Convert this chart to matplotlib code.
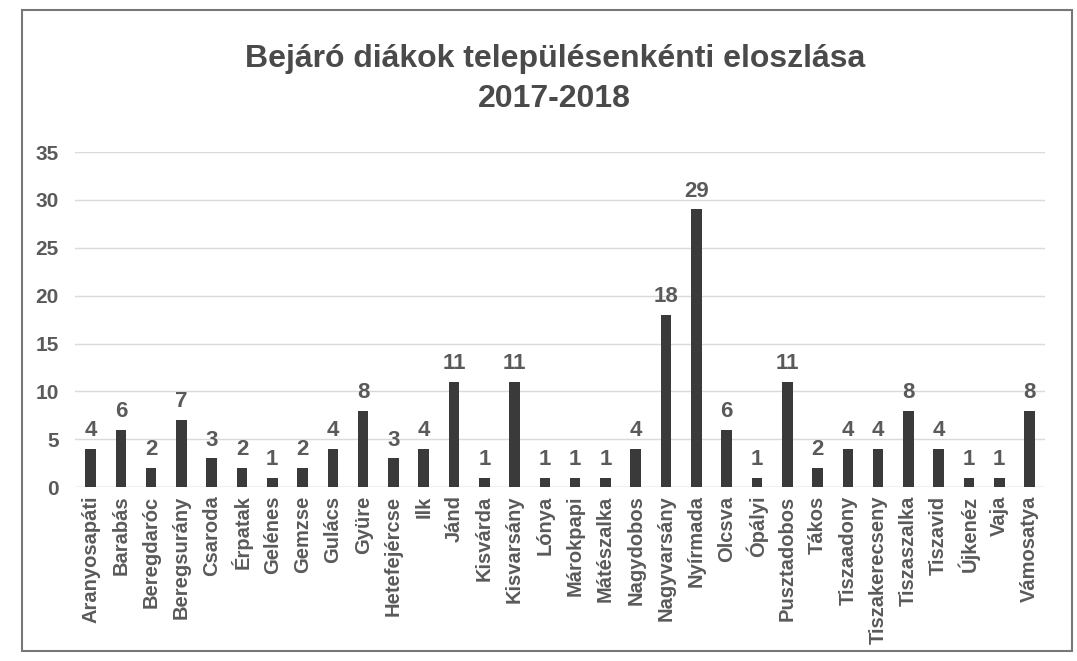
import matplotlib
matplotlib.use("Agg")
import matplotlib.pyplot as plt
from matplotlib.patches import Rectangle

plt.rcParams['font.family'] = ['Liberation Sans Narrow', 'Liberation Sans', 'DejaVu Sans']

# települések és bejáró diákok száma
telepulesek = ['Aranyosapáti', 'Barabás', 'Beregdaróc', 'Beregsurány', 'Csaroda',
               'Érpatak', 'Gelénes', 'Gemzse', 'Gulács', 'Gyüre', 'Hetefejércse',
               'Ilk', 'Jánd', 'Kisvárda', 'Kisvarsány', 'Lónya', 'Márokpapi',
               'Mátészalka', 'Nagydobos', 'Nagyvarsány', 'Nyírmada', 'Olcsva',
               'Ópályi', 'Pusztadobos', 'Tákos', 'Tiszaadony', 'Tiszakerecseny',
               'Tiszaszalka', 'Tiszavid', 'Újkenéz', 'Vaja', 'Vámosatya']
diakok = [4, 6, 2, 7, 3, 2, 1, 2, 4, 8, 3, 4, 11, 1, 11, 1, 1, 1, 4, 18, 29,
          6, 1, 11, 2, 4, 4, 8, 4, 1, 1, 8]
yticks = [0, 5, 10, 15, 20, 25, 30, 35]

TEXT = '#5a5a5a'
BAR = '#3a3a3a'

fig = plt.figure(figsize=(10.77, 6.61), dpi=100)
fig.patch.set_facecolor('white')
fig.patches.append(Rectangle((0.02, 0.015), 0.975, 0.97, transform=fig.transFigure,
                             fill=False, edgecolor='#777777', lw=1.5))

ax = fig.add_axes([0.07, 0.263, 0.9, 0.507])
x = range(len(telepulesek))
ax.bar(x, diakok, width=0.35, color=BAR, zorder=3)
for xi, v in zip(x, diakok):
    ax.text(xi, v + 0.8, str(v), ha='center', va='bottom', fontsize=16,
            fontweight='bold', color=TEXT)

ax.set_xlim(-0.5, len(telepulesek) - 0.5)
ax.set_ylim(0, 35)
ax.set_yticks(yticks)
ax.set_xticks(list(x))
ax.set_xticklabels(telepulesek, rotation=90, fontsize=14.5, fontweight='bold', color=TEXT)
ax.tick_params(axis='y', labelsize=15, colors=TEXT, length=0, pad=12)
ax.tick_params(axis='x', length=0, pad=6)
for lab in ax.get_yticklabels():
    lab.set_fontweight('bold')
ax.grid(axis='y', color='#d9d9d9', lw=1, zorder=0)
for s in ax.spines.values():
    s.set_visible(False)
ax.axhline(0, color='#d9d9d9', lw=1, zorder=2)

fig.text(0.515, 0.88, 'Bejáró diákok településenkénti eloszlása\n2017-2018',
         ha='center', va='center', fontsize=23, fontweight='bold', color='#4a4a4a',
         linespacing=1.45)

fig.savefig('out.png', dpi=100)
